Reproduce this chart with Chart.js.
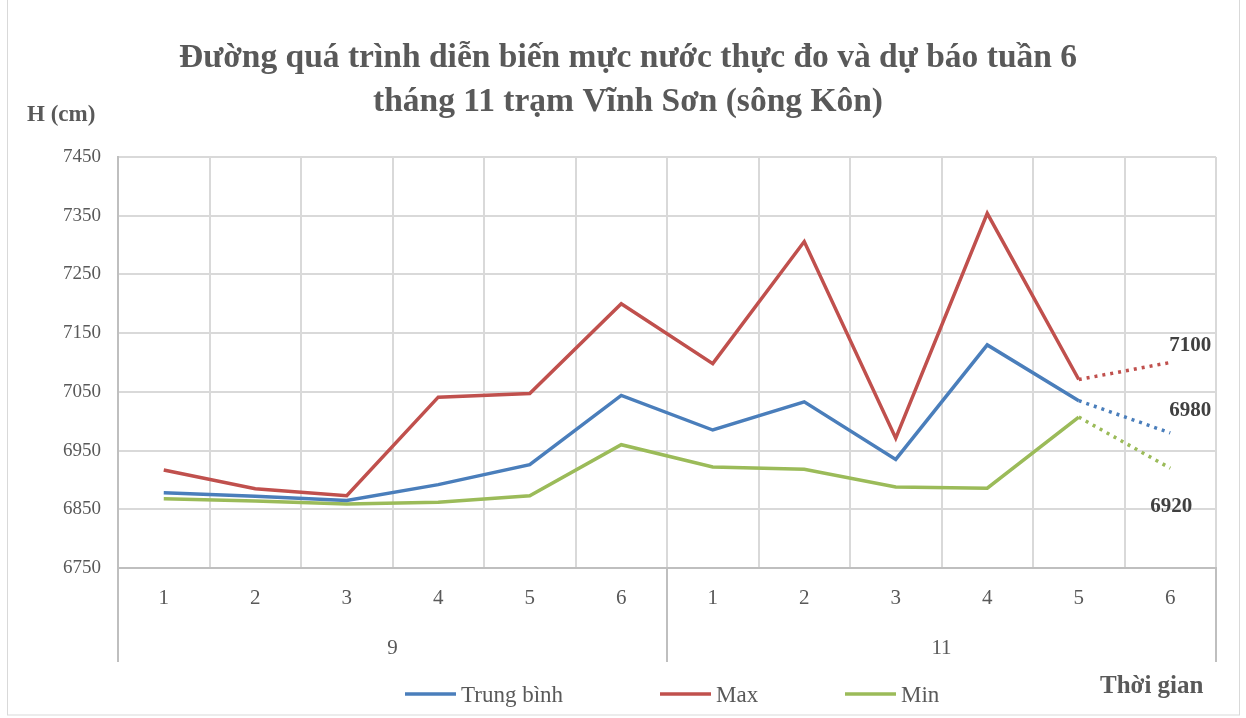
<!DOCTYPE html>
<html>
<head>
<meta charset="utf-8">
<script src="https://cdn.jsdelivr.net/npm/chart.js@4.4.0/dist/chart.umd.min.js"></script>
<style>
  html, body { margin: 0; padding: 0; background: #fff; }
  #wrap { width: 1246px; height: 718px; position: relative; }
</style>
</head>
<body>
<div id="wrap"><canvas id="myCanvas" width="1246" height="718"></canvas></div>
<script>
// data
const weeks = ['1', '2', '3', '4', '5', '6', '1', '2', '3', '4', '5', '6'];
const months = ['9', '11'];
const trungBinh = [6878, 6872, 6865, 6892, 6926, 7044, 6985, 7033, 6935, 7130, 7035, 6980];
const maxVals = [6917, 6885, 6873, 7041, 7047, 7200, 7098, 7306, 6971, 7354, 7071, 7100];
const minVals = [6868, 6864, 6859, 6862, 6873, 6960, 6922, 6918, 6888, 6886, 7007, 6920];
const seriesNames = ['Trung bình', 'Max', 'Min'];
const seriesColors = ['#4a7ebb', '#c0504d', '#9bbb59'];

const FONT = "'Liberation Serif', 'Times New Roman', serif";
const TXT = '#595959';

// last segment (week 5 -> 6 of month 11) is the forecast, drawn dotted
let dotted = ctx => ctx.p1DataIndex === weeks.length - 1 ? [3, 5] : undefined;

function makeSet(i, vals) {
  return {
    label: seriesNames[i],
    data: vals,
    borderColor: seriesColors[i],
    backgroundColor: seriesColors[i],
    borderWidth: 3.5,
    pointRadius: 0,
    tension: 0,
    segment: { borderDash: dotted }
  };
}

// title, group row, legend, forecast labels
const extras = {
  id: 'extras',
  afterDraw(chart) {
    const c = chart.ctx;
    const x = chart.scales.x, y = chart.scales.y;
    const area = chart.chartArea;
    c.save();

    // outer frame
    c.strokeStyle = '#d9d9d9';
    c.lineWidth = 1;
    c.strokeRect(7.5, -1, 1232, 716);

    // title
    c.fillStyle = TXT;
    c.textAlign = 'center';
    c.textBaseline = 'middle';
    c.font = 'bold 33.5px ' + FONT;
    c.fillText('Đường quá trình diễn biến mực nước thực đo và dự báo tuần 6', 628, 58);
    c.fillText('tháng 11 trạm Vĩnh Sơn (sông Kôn)', 628, 102);

    // y axis title
    c.font = 'bold 23px ' + FONT;
    c.textAlign = 'left';
    c.fillText('H (cm)', 27, 115);

    // month groups and separators
    const half = (x.getPixelForValue(1) - x.getPixelForValue(0)) / 2;
    const per = weeks.length / months.length;
    c.strokeStyle = '#bfbfbf';
    c.lineWidth = 2;
    for (let g = 0; g <= months.length; g++) {
      let px = g < months.length ? x.getPixelForValue(g * per) - half : x.getPixelForValue(weeks.length - 1) + half;
      c.beginPath();
      c.moveTo(px, area.bottom);
      c.lineTo(px, 662);
      c.stroke();
    }
    c.font = '21px ' + FONT;
    c.textAlign = 'center';
    months.forEach((m, g) => {
      const a = x.getPixelForValue(g * per) - half;
      const b = x.getPixelForValue(g * per + per - 1) + half;
      c.fillText(m, (a + b) / 2, 648);
    });

    // legend
    const legX = [405, 660, 845];
    c.font = '23px ' + FONT;
    c.textAlign = 'left';
    seriesNames.forEach((n, i) => {
      c.strokeStyle = seriesColors[i];
      c.lineWidth = 3.5;
      c.beginPath();
      c.moveTo(legX[i], 694);
      c.lineTo(legX[i] + 51, 694);
      c.stroke();
      c.fillText(n, legX[i] + 56, 696);
    });

    c.font = 'bold 25px ' + FONT;
    c.fillText('Thời gian', 1100, 687);

    // forecast value labels
    const last = weeks.length - 1;
    const px = x.getPixelForValue(last);
    c.fillStyle = '#404040';
    c.font = 'bold 21px ' + FONT;
    c.textAlign = 'center';
    c.fillText(String(maxVals[last]), px + 20, y.getPixelForValue(maxVals[last]) - 17);
    c.fillText(String(trungBinh[last]), px + 20, y.getPixelForValue(trungBinh[last]) - 22);
    c.fillText(String(minVals[last]), px + 1, y.getPixelForValue(minVals[last]) + 38);
    c.restore();
  }
};

var chrt = document.getElementById('myCanvas');
var myChart = new Chart(chrt, {
  type: 'line',
  data: {
    labels: weeks,
    datasets: [makeSet(0, trungBinh), makeSet(1, maxVals), makeSet(2, minVals)]
  },
  options: {
    responsive: false,
    animation: false,
    layout: { padding: { top: 157, right: 30, bottom: 0, left: 0 } },
    plugins: {
      legend: { display: false },
      title: { display: false },
      tooltip: { enabled: false }
    },
    scales: {
      x: {
        offset: true,
        grid: { offset: true, color: '#d9d9d9', lineWidth: 2, drawTicks: false },
        border: { color: '#bfbfbf', width: 2 },
        ticks: { color: TXT, font: { family: FONT, size: 21 }, padding: 18, maxRotation: 0, autoSkip: false },
        afterFit(s) { s.height = 150; }
      },
      y: {
        min: 6750,
        max: 7450,
        grid: { color: '#d9d9d9', lineWidth: 2, drawTicks: false },
        border: { color: '#bfbfbf', width: 2 },
        ticks: {
          stepSize: 100, color: TXT, font: { family: FONT, size: 19 }, padding: 17,
          callback: v => String(v)
        },
        afterFit(s) { s.width = 118; }
      }
    }
  },
  plugins: [extras]
});
</script>
</body>
</html>
